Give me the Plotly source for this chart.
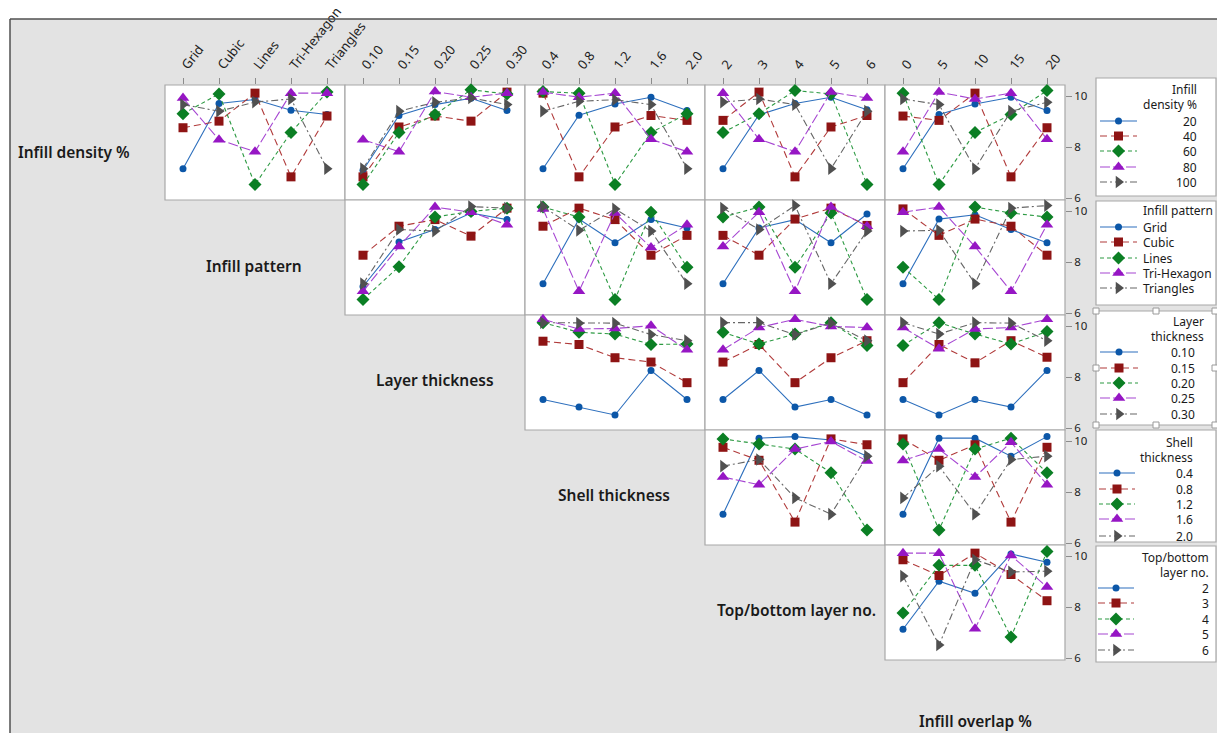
import plotly.graph_objects as go

W, H = 1217, 733
FONT = "Noto Sans"

# ---- factors and their levels ----
factor_names = ["Infill density %", "Infill pattern", "Layer thickness",
                "Shell thickness", "Top/bottom layer no.", "Infill overlap %"]
density_levels = ["20", "40", "60", "80", "100"]
pattern_levels = ["Grid", "Cubic", "Lines", "Tri-Hexagon", "Triangles"]
layer_levels = ["0.10", "0.15", "0.20", "0.25", "0.30"]
shell_levels = ["0.4", "0.8", "1.2", "1.6", "2.0"]
topbottom_levels = ["2", "3", "4", "5", "6"]
overlap_levels = ["0", "5", "10", "15", "20"]
level_labels = [density_levels, pattern_levels, layer_levels,
                shell_levels, topbottom_levels, overlap_levels]

# ---- interaction data: one row per level of the trace factor,
#      one value per level of the x-axis factor ----
density_by_pattern = [
    [7.16, 9.72, 9.88, 9.46, 9.29],
    [8.77, 9.03, 10.13, 6.84, 9.23],
    [9.32, 10.10, 6.54, 8.58, 10.17],
    [9.94, 8.30, 7.83, 10.13, 10.13],
    [9.68, 9.42, 9.78, 9.90, 7.16],
]
density_by_layer = [
    [7.10, 9.25, 9.68, 9.93, 9.45],
    [6.84, 8.80, 9.23, 9.03, 10.17],
    [6.54, 8.58, 9.29, 10.26, 10.10],
    [8.30, 7.83, 10.19, 9.97, 10.13],
    [7.16, 9.42, 9.77, 9.94, 9.68],
]
density_by_shell = [
    [7.16, 9.26, 9.70, 9.97, 9.45],
    [10.13, 6.84, 8.80, 9.25, 9.06],
    [10.19, 10.13, 6.54, 8.58, 9.32],
    [10.17, 9.97, 10.13, 8.32, 7.83],
    [9.42, 9.81, 9.87, 9.68, 7.16],
]
density_by_topbottom = [
    [7.16, 9.28, 9.72, 9.97, 9.48],
    [9.06, 10.17, 6.84, 8.80, 9.25],
    [8.58, 9.32, 10.23, 10.10, 6.54],
    [10.13, 8.32, 7.83, 10.17, 9.94],
    [9.78, 9.90, 9.68, 7.16, 9.42],
]
density_by_overlap = [
    [7.16, 9.29, 9.70, 9.97, 9.45],
    [9.23, 9.06, 10.13, 6.84, 8.77],
    [10.13, 6.54, 8.58, 9.29, 10.23],
    [7.83, 10.17, 9.90, 10.13, 8.32],
    [9.90, 9.68, 7.16, 9.42, 9.77],
]
pattern_by_layer = [
    [7.05, 8.80, 9.29, 9.94, 9.68],
    [8.28, 9.42, 9.68, 9.03, 10.13],
    [6.54, 7.83, 9.78, 10.00, 10.13],
    [6.86, 8.62, 10.17, 9.97, 9.48],
    [7.16, 9.29, 9.23, 10.19, 10.13],
]
pattern_by_shell = [
    [7.16, 9.70, 8.77, 9.68, 9.35],
    [9.42, 10.13, 9.68, 8.28, 9.06],
    [10.17, 9.78, 6.54, 9.97, 7.81],
    [10.10, 6.86, 9.94, 8.58, 9.48],
    [10.19, 9.26, 10.10, 9.23, 7.16],
]
pattern_by_topbottom = [
    [7.16, 9.35, 9.68, 8.77, 9.90],
    [9.06, 8.28, 9.70, 10.13, 9.45],
    [9.78, 10.17, 7.81, 9.94, 6.54],
    [8.62, 9.97, 6.86, 10.17, 9.42],
    [10.13, 9.29, 10.23, 7.16, 9.23],
]
pattern_by_overlap = [
    [7.16, 9.70, 9.87, 9.29, 8.77],
    [10.10, 9.06, 9.70, 9.42, 8.28],
    [7.81, 6.54, 10.17, 9.94, 9.78],
    [9.97, 10.17, 8.62, 6.86, 9.48],
    [9.23, 9.26, 7.16, 10.13, 10.23],
]
layer_by_shell = [
    [7.13, 6.83, 6.52, 8.27, 7.13],
    [9.42, 9.29, 8.77, 8.60, 7.79],
    [10.15, 9.77, 9.70, 9.29, 9.31],
    [10.28, 9.90, 9.92, 10.03, 9.08],
    [10.15, 10.13, 10.13, 9.68, 9.44],
]
layer_by_topbottom = [
    [7.13, 8.27, 6.83, 7.13, 6.52],
    [8.60, 9.29, 7.79, 8.77, 9.44],
    [9.77, 9.31, 9.70, 10.15, 9.25],
    [9.08, 9.96, 10.28, 10.00, 9.96],
    [10.15, 10.15, 9.68, 10.13, 9.44],
]
layer_by_overlap = [
    [7.13, 6.52, 7.13, 6.83, 8.27],
    [7.79, 9.29, 8.57, 9.44, 8.79],
    [9.25, 10.15, 9.70, 9.31, 9.80],
    [9.96, 9.12, 9.90, 9.96, 10.28],
    [10.15, 9.70, 10.15, 10.13, 9.44],
]
shell_by_topbottom = [
    [7.14, 10.13, 10.19, 10.06, 9.42],
    [9.77, 9.26, 6.83, 10.10, 9.87],
    [10.10, 9.90, 9.70, 8.77, 6.52],
    [8.60, 8.30, 9.70, 10.00, 9.23],
    [9.03, 9.29, 7.78, 7.14, 9.42],
]
shell_by_overlap = [
    [7.14, 10.13, 10.13, 9.42, 10.19],
    [10.10, 9.26, 9.87, 6.83, 9.77],
    [9.90, 6.52, 9.70, 10.13, 8.77],
    [9.25, 9.70, 8.60, 9.97, 8.30],
    [7.78, 9.03, 7.14, 9.29, 9.42],
]
topbottom_by_overlap = [
    [7.14, 9.03, 8.55, 10.10, 9.77],
    [9.87, 9.25, 10.13, 9.29, 8.26],
    [7.78, 9.65, 9.65, 6.83, 10.19],
    [10.13, 10.13, 7.16, 10.04, 8.80],
    [9.23, 6.52, 9.87, 9.39, 9.42],
]

# (trace factor row, x factor column) -> data
panels = {
    (0, 1): density_by_pattern, (0, 2): density_by_layer, (0, 3): density_by_shell,
    (0, 4): density_by_topbottom, (0, 5): density_by_overlap,
    (1, 2): pattern_by_layer, (1, 3): pattern_by_shell,
    (1, 4): pattern_by_topbottom, (1, 5): pattern_by_overlap,
    (2, 3): layer_by_shell, (2, 4): layer_by_topbottom, (2, 5): layer_by_overlap,
    (3, 4): shell_by_topbottom, (3, 5): shell_by_overlap,
    (4, 5): topbottom_by_overlap,
}

# ---- series appearance (same for every panel) ----
styles = [
    dict(color="#0c57a8", line="#2d6fbd", symbol="circle", size=7, dash="solid"),
    dict(color="#8e1414", line="#b03a3a", symbol="square", size=9, dash="7px,4px"),
    dict(color="#0b7f24", line="#2c9a42", symbol="diamond", size=10, dash="4px,3px"),
    dict(color="#9616c4", line="#a646d2", symbol="triangle-up", size=11, dash="10px,3px"),
    dict(color="#505050", line="#666666", symbol="triangle-right", size=11,
         dash="7px,3px,2px,3px"),
]

GRID_LEFT, CELL_W = -15, 180
GRID_TOP, CELL_H = 85, 115
Y_RANGE = [5.93, 10.45]
BORDER = "#a8a8a8"


def px(x):
    return x / W


def py(y):
    return 1 - y / H


fig = go.Figure()
layout = {}
shapes = []
annotations = []

for k, ((r, c), data) in enumerate(panels.items(), start=1):
    sfx = "" if k == 1 else str(k)
    x0 = GRID_LEFT + c * CELL_W
    y0 = GRID_TOP + r * CELL_H
    layout["xaxis" + sfx] = dict(
        domain=[px(x0), px(x0 + CELL_W)], anchor="y" + sfx, type="category",
        range=[-0.5, 4.5], showgrid=False, zeroline=False, showline=False,
        side="top", showticklabels=(r == 0), ticks="outside" if r == 0 else "",
        ticklen=6, tickcolor="#8c8c8c", tickangle=-52, automargin=False,
        tickfont=dict(family=FONT, size=13, color="#222"), fixedrange=True,
    )
    layout["yaxis" + sfx] = dict(
        domain=[py(y0 + CELL_H), py(y0)], anchor="x" + sfx, range=Y_RANGE,
        showgrid=False, zeroline=False, showline=False, side="right",
        tickvals=[6, 8, 10], showticklabels=(c == 5), automargin=False,
        ticks="outside" if c == 5 else "", ticklen=6, tickcolor="#8c8c8c",
        tickfont=dict(family=FONT, size=11.5, color="#222"), fixedrange=True,
    )
    shapes.append(dict(type="rect", xref="x" + sfx + " domain", yref="y" + sfx + " domain",
                       x0=0, x1=1, y0=0, y1=1, fillcolor="white",
                       line=dict(color=BORDER, width=1.2), layer="below"))
    for i, series in enumerate(data):
        st = styles[i]
        fig.add_trace(go.Scatter(
            x=level_labels[c], y=series, xaxis="x" + sfx, yaxis="y" + sfx,
            mode="lines+markers", showlegend=False, cliponaxis=False,
            line=dict(color=st["line"], width=1.1, dash=st["dash"]),
            marker=dict(symbol=st["symbol"], size=st["size"], color=st["color"]),
        ))

# factor names along the diagonal
diag_pos = [(74, 152), (254, 266), (435, 380), (614, 495), (796, 610), (975, None)]
for name, (xx, yy) in zip(factor_names, diag_pos):
    if yy is None:
        # last name sits on the bottom edge of the graph region
        ypos, yanc = 0, "bottom"
    else:
        ypos, yanc = py(yy), "middle"
    annotations.append(dict(text=name, x=px(xx), y=ypos, xref="paper", yref="paper",
                            showarrow=False, xanchor="center", yanchor=yanc,
                            borderpad=0,
                            font=dict(family=FONT, size=15.5, color="#1a1a1a", weight=600)))

# ---- legend boxes, drawn on a pixel-scaled overlay axis ----
LEG = str(len(panels) + 1)
layout["xaxis" + LEG] = dict(domain=[0, 1], range=[0, W], visible=False,
                             anchor="y" + LEG, fixedrange=True)
layout["yaxis" + LEG] = dict(domain=[0, 1], range=[H, 0], visible=False,
                             anchor="x" + LEG, fixedrange=True)

legend_boxes = [
    dict(top=78, bottom=196, title=[("Infill", 89), ("density %", 105)], title_x=1198,
         title_align="right", rows=[121, 136, 151, 167, 182], label_x=1198,
         label_align="right", line=(1100, 1137)),
    dict(top=201, bottom=305, title=[("Infill pattern", 211)], title_x=1142,
         title_align="left", rows=[227, 242, 258, 273, 288], label_x=1142,
         label_align="left", line=(1100, 1137)),
    dict(top=311, bottom=425, title=[("Layer", 321), ("thickness", 336)], title_x=1205,
         title_align="right", rows=[352, 368, 383, 398, 414], label_x=1196,
         label_align="right", line=(1100, 1138)),
    dict(top=430, bottom=542, title=[("Shell", 442), ("thickness", 457)], title_x=1194,
         title_align="right", rows=[473, 489, 504, 519, 536], label_x=1194,
         label_align="right", line=(1099, 1135)),
    dict(top=546, bottom=662, title=[("Top/bottom", 557), ("layer no.", 572)], title_x=1210,
         title_align="right", rows=[588, 603, 619, 634, 650], label_x=1210,
         label_align="right", line=(1098, 1134)),
]
BOX_L, BOX_R = 1096, 1216
LEG_FONT = dict(family=FONT, size=12, color="#1a1a1a")

for b, box in enumerate(legend_boxes):
    shapes.append(dict(type="rect", xref="paper", yref="paper",
                       x0=px(BOX_L), x1=px(BOX_R), y0=py(box["bottom"]), y1=py(box["top"]),
                       fillcolor="white", line=dict(color=BORDER, width=1.2), layer="below"))
    for text, yy in box["title"]:
        annotations.append(dict(text=text, x=px(box["title_x"]), y=py(yy), xref="paper",
                                yref="paper", showarrow=False, xanchor=box["title_align"],
                                yanchor="middle", borderpad=0, font=LEG_FONT))
    la, lb = box["line"]
    for i, (lab, yy) in enumerate(zip(level_labels[b], box["rows"])):
        st = styles[i]
        fig.add_trace(go.Scatter(
            x=[la, lb], y=[yy, yy], xaxis="x" + LEG, yaxis="y" + LEG, mode="lines",
            showlegend=False, hoverinfo="skip",
            line=dict(color=st["line"], width=1.1, dash=st["dash"])))
        fig.add_trace(go.Scatter(
            x=[(la + lb) / 2], y=[yy], xaxis="x" + LEG, yaxis="y" + LEG, mode="markers",
            showlegend=False, hoverinfo="skip",
            marker=dict(symbol=st["symbol"], size=st["size"], color=st["color"])))
        annotations.append(dict(text=lab, x=px(box["label_x"]), y=py(yy), xref="paper",
                                yref="paper", showarrow=False, xanchor=box["label_align"],
                                yanchor="middle", borderpad=0, font=LEG_FONT))

# selection handles around the third legend box
for hx in (BOX_L, (BOX_L + BOX_R) / 2, BOX_R - 1):
    for hy in (311, 368, 425):
        if hx == (BOX_L + BOX_R) / 2 and hy == 368:
            continue
        shapes.append(dict(type="rect", xref="paper", yref="paper",
                           x0=px(hx - 3), x1=px(hx + 3), y0=py(hy + 3), y1=py(hy - 3),
                           fillcolor="white", line=dict(color="#9a9a9a", width=1)))

# white frame strips and the dark frame edges of the graph region
shapes += [
    dict(type="rect", xref="paper", yref="paper", x0=0, x1=1, y0=py(19), y1=1,
         fillcolor="white", line=dict(width=0), layer="below"),
    dict(type="rect", xref="paper", yref="paper", x0=0, x1=px(10), y0=0, y1=1,
         fillcolor="white", line=dict(width=0), layer="below"),
    dict(type="line", xref="paper", yref="paper", x0=px(10), x1=1, y0=py(19), y1=py(19),
         line=dict(color="#505050", width=1.5)),
    dict(type="line", xref="paper", yref="paper", x0=px(10), x1=px(10), y0=0, y1=py(19),
         line=dict(color="#505050", width=1.5)),
]

fig.update_layout(
    width=W, height=H, margin=dict(l=0, r=0, t=0, b=0),
    paper_bgcolor="#e3e3e3", plot_bgcolor="rgba(0,0,0,0)",
    showlegend=False, shapes=shapes, annotations=annotations,
    font=dict(family=FONT, color="#1a1a1a"),
    **layout,
)

# the figure fills the whole page, so drop the default body margin
fig.write_html("out.html",
               post_script="document.body.style.margin='0';"
                           "document.body.style.overflow='hidden';")
